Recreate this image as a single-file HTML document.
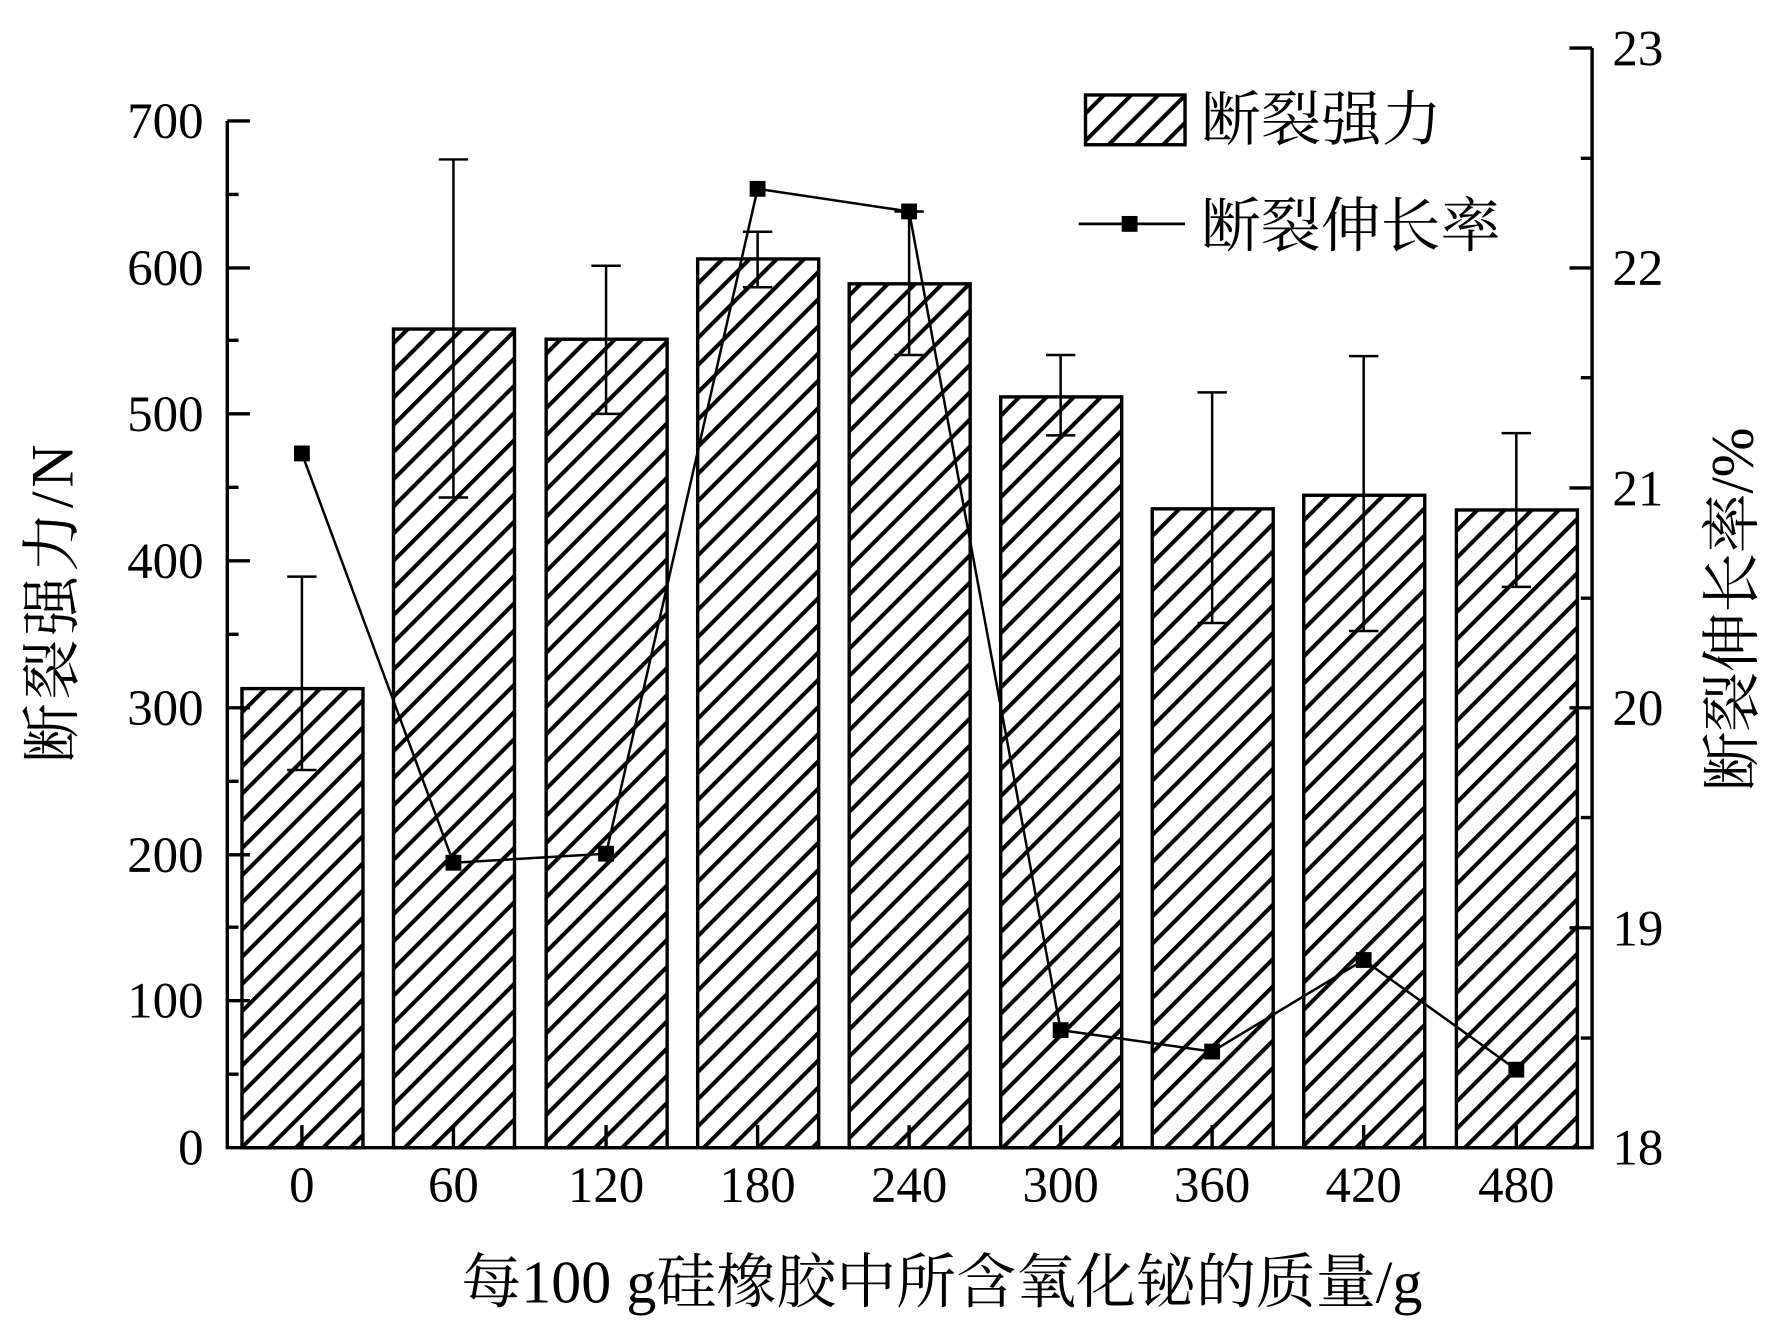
<!DOCTYPE html>
<html><head><meta charset="utf-8"><style>html,body{margin:0;padding:0;background:#fff}svg{display:block}</style></head>
<body>
<svg width="1773" height="1332" viewBox="0 0 1568 1178" preserveAspectRatio="none" xmlns="http://www.w3.org/2000/svg">
<defs>
<pattern id="h" patternUnits="userSpaceOnUse" width="17" height="17" patternTransform="rotate(45)">
<rect width="17" height="17" fill="#fff"/>
<rect x="0" y="0" width="3.6" height="17" fill="#000"/>
</pattern>
</defs>
<g font-family="Liberation Serif, serif" font-size="45" fill="#000">
<g stroke="#000" stroke-width="3" fill="url(#h)">
<rect x="214" y="609" width="107" height="406"/>
<rect x="348" y="291" width="107" height="724"/>
<rect x="483" y="300" width="107" height="715"/>
<rect x="617" y="229" width="107" height="786"/>
<rect x="751" y="251" width="107" height="764"/>
<rect x="885" y="351" width="107" height="664"/>
<rect x="1019" y="450" width="107" height="565"/>
<rect x="1153" y="438" width="107" height="577"/>
<rect x="1288" y="451" width="107" height="564"/>
</g>
<g stroke="#000" stroke-width="2.2" fill="none">
<path d="M267 510V681M254 510H280M254 681H280"/>
<path d="M401 141V440M388 141H414M388 440H414"/>
<path d="M536 235V366M523 235H549M523 366H549"/>
<path d="M670 205V254M657 205H683M657 254H683"/>
<path d="M804 187V314M791 187H817M791 314H817"/>
<path d="M938 314V385M925 314H951M925 385H951"/>
<path d="M1072 347V551M1059 347H1085M1059 551H1085"/>
<path d="M1206 315V558M1193 315H1219M1193 558H1219"/>
<path d="M1341 383V519M1328 383H1354M1328 519H1354"/>
</g>
<polyline points="267,401 401,763 536,755 670,167 804,187 938,911 1072,930 1206,849 1341,946" fill="none" stroke="#000" stroke-width="2.2"/>
<g fill="#000">
<rect x="260" y="394" width="14" height="14"/><rect x="394" y="756" width="14" height="14"/><rect x="529" y="748" width="14" height="14"/><rect x="663" y="160" width="14" height="14"/><rect x="797" y="180" width="14" height="14"/><rect x="931" y="904" width="14" height="14"/><rect x="1065" y="923" width="14" height="14"/><rect x="1199" y="842" width="14" height="14"/><rect x="1334" y="939" width="14" height="14"/>
</g>
<g stroke="#000" stroke-width="3" fill="none">
<path d="M201 107V1015H1408V42.5"/>
<path d="M201 107h20M201 237h20M201 366h20M201 496h20M201 626h20M201 756h20M201 885h20"/>
<path d="M201 172h10M201 301h10M201 431h10M201 561h10M201 691h10M201 820h10M201 950h10"/>
<path d="M1408 42.5h-20M1408 237h-20M1408 431.5h-20M1408 626h-20M1408 820.5h-20"/>
<path d="M1408 140h-10M1408 334h-10M1408 529h-10M1408 723h-10M1408 918h-10"/>
<path d="M267 1015v-20M401 1015v-20M536 1015v-20M670 1015v-20M804 1015v-20M938 1015v-20M1072 1015v-20M1206 1015v-20M1341 1015v-20"/>
</g>
<g text-anchor="end">
<text x="180" y="1030">0</text><text x="180" y="900">100</text><text x="180" y="771">200</text><text x="180" y="641">300</text><text x="180" y="511">400</text><text x="180" y="381">500</text><text x="180" y="252">600</text><text x="180" y="122">700</text>
</g>
<g>
<text x="1426" y="1030">18</text><text x="1426" y="836">19</text><text x="1426" y="641">20</text><text x="1426" y="447">21</text><text x="1426" y="252">22</text><text x="1426" y="58">23</text>
</g>
<g text-anchor="middle">
<text x="267" y="1063">0</text><text x="401" y="1063">60</text><text x="536" y="1063">120</text><text x="670" y="1063">180</text><text x="804" y="1063">240</text><text x="938" y="1063">300</text><text x="1072" y="1063">360</text><text x="1206" y="1063">420</text><text x="1341" y="1063">480</text>
</g>
<g font-family="Liberation Serif, 'Noto Serif CJK SC', serif" font-size="53">
<text x="833" y="1152" text-anchor="middle" textLength="850">每100 g硅橡胶中所含氧化铋的质量/g</text>
<text transform="translate(64,534) rotate(-90)" text-anchor="middle" textLength="282">断裂强力/N</text>
<text transform="translate(1550,539) rotate(-90)" text-anchor="middle" textLength="322">断裂伸长率/%</text>
</g>
<rect x="960" y="84" width="88" height="44" fill="url(#h)" stroke="#000" stroke-width="3"/>
<g font-family="'Noto Serif CJK SC', serif" font-size="53">
<text x="1062" y="124" textLength="213">断裂强力</text>
<text x="1062" y="218" textLength="265">断裂伸长率</text>
</g>
<path d="M954 198H1048" stroke="#000" stroke-width="2.5"/>
<rect x="992" y="191" width="14" height="14" fill="#000"/>
</g>
</svg>
</body></html>
